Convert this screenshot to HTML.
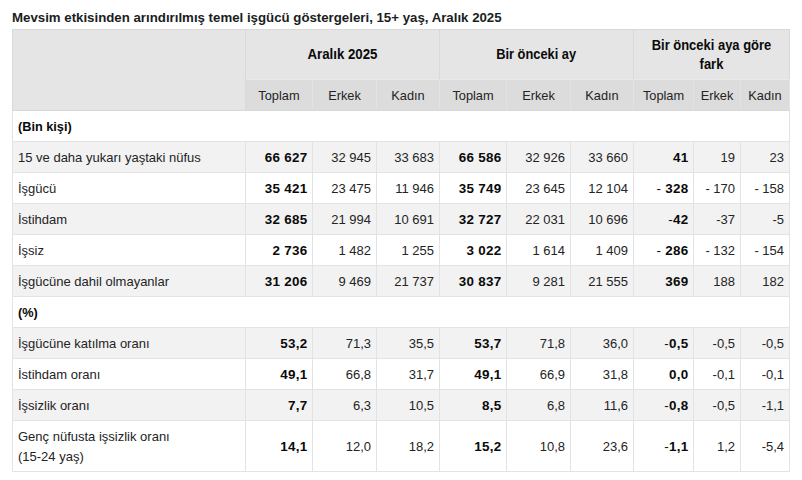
<!DOCTYPE html>
<html lang="tr">
<head>
<meta charset="utf-8">
<title>Tablo</title>
<style>
html,body{margin:0;padding:0;background:#fff;}
body{width:802px;height:480px;overflow:hidden;position:relative;font-family:"Liberation Sans",sans-serif;color:#242424;}
.title{position:absolute;left:12px;top:8px;font-size:13.25px;font-weight:bold;line-height:20px;white-space:nowrap;color:#1a1d21;}
table{position:absolute;left:12px;top:29px;width:778px;border-collapse:collapse;table-layout:fixed;font-size:13px;line-height:20px;}
td,th{border:1px solid #e3e3e3;padding:6px 5px 4px 5px;height:20px;box-sizing:content-box;overflow:hidden;white-space:nowrap;font-weight:normal;vertical-align:middle;}
thead tr.g th{background:#e5e5e5;font-weight:bold;text-align:center;height:40px;padding:4px 2px 5px 2px;font-size:14.2px;color:#0a0a0a;}
thead tr.g th{border-color:#d9d9d9 #d9d9d9 #e9e9e9 #d9d9d9;}
.sx{display:inline-block;transform-origin:50% 50%;}
thead tr.g th.w{line-height:19px;padding-top:5px;padding-bottom:4px;}
thead tr.g th[rowspan],thead tr.s th{border-bottom-color:#d8d8d8;}
thead tr.s th{background:#dcdcdc;text-align:center;padding:6px 0 4px 0;font-size:12.8px;}
tbody td{text-align:right;}
tbody td.l{text-align:left;padding-right:0;}
tbody td.b{font-weight:bold;font-size:13.4px;color:#0a0a0a;padding-right:4.5px;letter-spacing:0.3px;}
tbody td.b i{font-style:normal;font-weight:normal;}
tbody tr.sec td{font-weight:bold;text-align:left;font-size:13.4px;color:#0a0a0a;}
tbody tr.sec td span{display:inline-block;transform:scaleX(.95);transform-origin:0 50%;}
tbody tr.o td{background:#f2f2f2;}
tbody tr.two td.l{white-space:normal;height:40px;}
</style>
</head>
<body>
<div class="title">Mevsim etkisinden arındırılmış temel işgücü göstergeleri, 15+ yaş, Aralık 2025</div>
<table>
<colgroup>
<col style="width:233px"><col style="width:67px"><col style="width:64px"><col style="width:63px"><col style="width:67px"><col style="width:64px"><col style="width:63px"><col style="width:60px"><col style="width:47px"><col style="width:49px">
</colgroup>
<thead>
<tr class="g"><th rowspan="2"></th><th colspan="3"><span class="sx" style="transform:scaleX(.935)">Aralık 2025</span></th><th colspan="3"><span class="sx" style="transform:scaleX(.905)">Bir önceki ay</span></th><th colspan="3" class="w"><span class="sx" style="transform:scaleX(.913)">Bir önceki aya göre<br>fark</span></th></tr>
<tr class="s"><th>Toplam</th><th>Erkek</th><th>Kadın</th><th>Toplam</th><th>Erkek</th><th>Kadın</th><th>Toplam</th><th>Erkek</th><th>Kadın</th></tr>
</thead>
<tbody>
<tr class="sec"><td class="l" colspan="10"><span>(Bin kişi)</span></td></tr>
<tr class="o"><td class="l">15 ve daha yukarı yaştaki nüfus</td><td class="b">66 627</td><td>32 945</td><td>33 683</td><td class="b">66 586</td><td>32 926</td><td>33 660</td><td class="b">41</td><td>19</td><td>23</td></tr>
<tr><td class="l">İşgücü</td><td class="b">35 421</td><td>23 475</td><td>11 946</td><td class="b">35 749</td><td>23 645</td><td>12 104</td><td class="b"><i>-</i> 328</td><td>- 170</td><td>- 158</td></tr>
<tr class="o"><td class="l">İstihdam</td><td class="b">32 685</td><td>21 994</td><td>10 691</td><td class="b">32 727</td><td>22 031</td><td>10 696</td><td class="b"><i>-</i>42</td><td>-37</td><td>-5</td></tr>
<tr><td class="l">İşsiz</td><td class="b">2 736</td><td>1 482</td><td>1 255</td><td class="b">3 022</td><td>1 614</td><td>1 409</td><td class="b"><i>-</i> 286</td><td>- 132</td><td>- 154</td></tr>
<tr class="o"><td class="l">İşgücüne dahil olmayanlar</td><td class="b">31 206</td><td>9 469</td><td>21 737</td><td class="b">30 837</td><td>9 281</td><td>21 555</td><td class="b">369</td><td>188</td><td>182</td></tr>
<tr class="sec"><td class="l" colspan="10"><span>(%)</span></td></tr>
<tr class="o"><td class="l">İşgücüne katılma oranı</td><td class="b">53,2</td><td>71,3</td><td>35,5</td><td class="b">53,7</td><td>71,8</td><td>36,0</td><td class="b"><i>-</i>0,5</td><td>-0,5</td><td>-0,5</td></tr>
<tr><td class="l">İstihdam oranı</td><td class="b">49,1</td><td>66,8</td><td>31,7</td><td class="b">49,1</td><td>66,9</td><td>31,8</td><td class="b">0,0</td><td>-0,1</td><td>-0,1</td></tr>
<tr class="o"><td class="l">İşsizlik oranı</td><td class="b">7,7</td><td>6,3</td><td>10,5</td><td class="b">8,5</td><td>6,8</td><td>11,6</td><td class="b"><i>-</i>0,8</td><td>-0,5</td><td>-1,1</td></tr>
<tr class="two"><td class="l">Genç nüfusta işsizlik oranı<br>(15-24 yaş)</td><td class="b">14,1</td><td>12,0</td><td>18,2</td><td class="b">15,2</td><td>10,8</td><td>23,6</td><td class="b"><i>-</i>1,1</td><td>1,2</td><td>-5,4</td></tr>
</tbody>
</table>
</body>
</html>
